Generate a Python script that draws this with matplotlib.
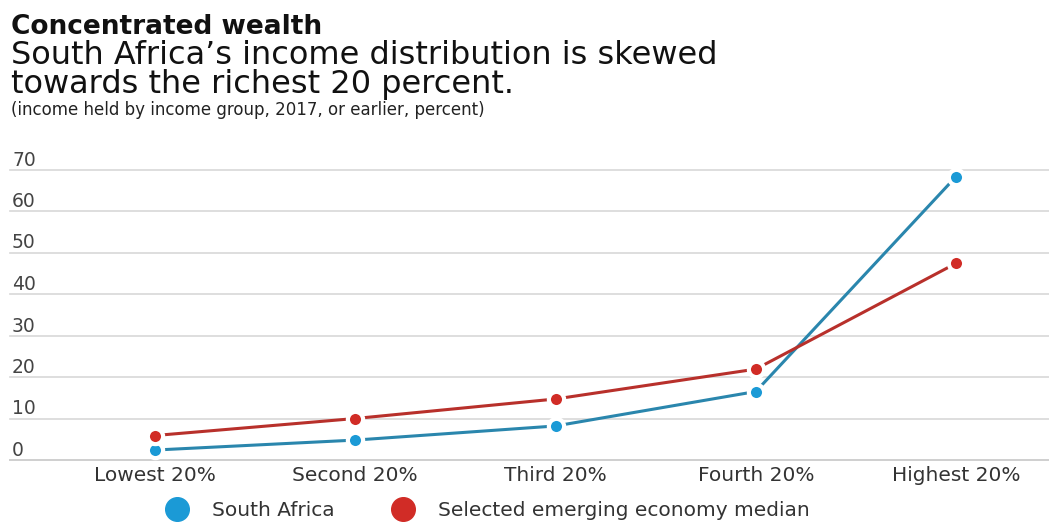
import numpy as np
import matplotlib
matplotlib.use('Agg')
from matplotlib import pyplot as plt

groups = ['Lowest 20%', 'Second 20%', 'Third 20%', 'Fourth 20%', 'Highest 20%']
south_africa = [2.4, 4.8, 8.2, 16.5, 68.3]
emerging_median = [5.9, 10.0, 14.7, 21.9, 47.4]
y_ticks = [0, 10, 20, 30, 40, 50, 60, 70]

W, H = 1049, 525
blue = '#1b9ad6'
red = '#d12c26'

plt.rcParams['font.family'] = ['DejaVu Sans']

fig = plt.figure(figsize=(W / 100, H / 100), dpi=100)
fig.patch.set_facecolor('white')


def px(x, y):
    """Pixel position (from top left) to figure fraction"""
    return x / W, 1 - y / H


# plot area: 0 line at y=460, 70 line at y=169.5
left, bottom = px(10, 460)
right, top = px(W, 169.5)
ax = fig.add_axes([left, bottom, right - left, top - bottom])

x = np.arange(len(groups))
for vals, col, line_col, name in [(south_africa, blue, '#2a86ad', 'South Africa'),
                                  (emerging_median, red, '#b8302b', 'Selected emerging economy median')]:
    ax.plot(x, vals, color=line_col, lw=2.2, zorder=3, solid_capstyle='butt')
    ax.plot(x, vals, ls='none', marker='o', ms=11, mfc=col, mec='white', mew=3,
            zorder=4, clip_on=False)
    ax.plot([], [], ls='none', marker='o', ms=17, color=col, label=name)

ax.set_xlim(-0.724, 4.464)
ax.set_ylim(0, 70)
ax.set_yticks(y_ticks)
ax.grid(axis='y', color='#d8d8d8', lw=1.2)
for gl in ax.get_ygridlines():
    gl.set_clip_on(False)
ax.set_axisbelow(True)
for s in ['top', 'right', 'left']:
    ax.spines[s].set_visible(False)
ax.spines['bottom'].set_color('#d0d0d0')
ax.spines['bottom'].set_linewidth(1.4)
ax.tick_params(axis='both', length=0)
ax.set_yticklabels([])
ax.set_xticks(x)
ax.set_xticklabels(groups, fontsize=14.5, color='#333333')
ax.tick_params(axis='x', pad=4)

# y labels sit just above their gridlines, flush left
for t in y_ticks:
    ax.annotate(str(t), xy=(0, t), xycoords=('axes fraction', 'data'),
                xytext=(2, 4), textcoords='offset pixels',
                ha='left', va='baseline', fontsize=13.5, color='#444444')

fig.text(*px(11, 34), 'Concentrated wealth', fontsize=19, fontweight='bold',
         color='#111111', va='baseline')
# two-line subtitle, anchored on the baseline of its last line
fig.text(*px(11, 93), 'South Africa\u2019s income distribution is skewed\n'
         'towards the richest 20 percent.',
         fontsize=23, color='#111111', va='baseline', linespacing=0.92)
fig.text(*px(11, 115), '(income held by income group, 2017, or earlier, percent)',
         fontsize=12, color='#222222', va='baseline')

fig.legend(loc='center left', bbox_to_anchor=px(146, 511), ncol=2, frameon=False,
           fontsize=14.5, handletextpad=1.1, columnspacing=2.7, handlelength=1.3,
           labelcolor='#333333')

fig.savefig('out.png', dpi=100)
